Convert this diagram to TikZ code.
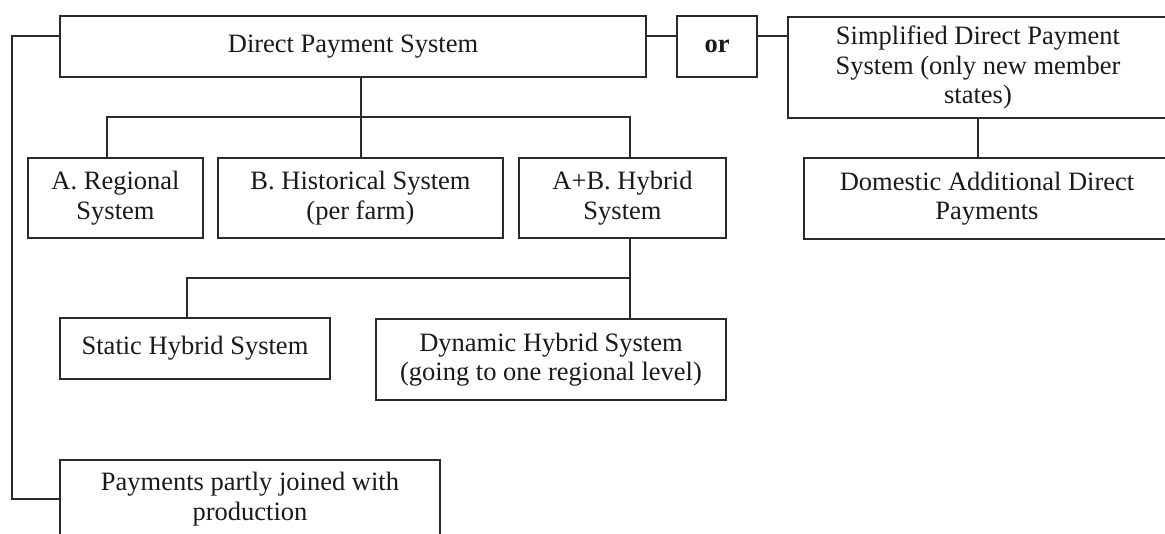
\documentclass[tikz,border=0pt]{standalone}
\usepackage{fontspec}
\setmainfont{Liberation Serif}
\definecolor{linec}{HTML}{2A2A2A}
\definecolor{textc}{HTML}{1A1A1A}
\begin{document}
\begin{tikzpicture}[x=1pt,y=-1pt,
  box/.style={draw=linec, line width=2pt, fill=white, align=center, inner sep=0pt,
    font=\fontsize{26.5}{29.5}\selectfont, text=textc},
  link/.style={draw=linec, line width=2pt, line join=miter}]
\useasboundingbox (0,0) rectangle (1165,534);
\clip (0,0) rectangle (1165,534);
\fill[white] (0,0) rectangle (1165,534);
% nodes
\node[box, minimum width=586pt, minimum height=61pt] (dps) at (353,46.5) {Direct Payment System};
\node[box, minimum width=80pt, minimum height=61pt, font=\fontsize{26.5}{29.5}\selectfont\bfseries] (orbox) at (717,46.5) {or};
\node[box, minimum width=380pt, minimum height=101pt] (simp) at (978,67.5) {Simplified Direct Payment\\System (only new member\\states)};
\node[box, minimum width=366pt, minimum height=81pt] (dom) at (987,198.5) {Domestic Additional Direct\\Payments};
\node[box, minimum width=175pt, minimum height=80pt] (reg) at (115.5,198) {A. Regional\\System};
\node[box, minimum width=285pt, minimum height=80pt] (hist) at (360.5,198) {B. Historical System\\(per farm)};
\node[box, minimum width=207pt, minimum height=80pt] (hyb) at (622.5,198) {A+B. Hybrid\\System};
\node[box, minimum width=270pt, minimum height=61pt] (stat) at (195,348.5) {Static Hybrid System};
\node[box, minimum width=350pt, minimum height=81pt] (dyn) at (551,359.5) {Dynamic Hybrid System\\(going to one regional level)};
\node[box, minimum width=380pt, minimum height=78pt] (pay) at (250,499) {Payments partly joined with\\production};
% helper coordinates
\coordinate (lk) at (0,36);
\coordinate (lft) at (12,499);
\coordinate (busA) at (107,117);
\coordinate (busC) at (630,117);
\coordinate (busD) at (187,278);
\coordinate (busE) at (630,278);
% connectors
\draw[link] (dps.east |- lk) -- (orbox.west |- lk);
\draw[link] (orbox.east |- lk) -- (simp.west |- lk);
\draw[link] (dps.west |- lk) -| (lft) -- (pay.west |- lft);
\draw[link] (reg.north -| busA) -- (busA) -- (busC) -- (hyb.north -| busC);
\draw[link] (dps.south -| hist.north) -- (hist.north);
\draw[link] (hyb.south -| busE) -- (dyn.north -| busE);
\draw[link] (stat.north -| busD) -- (busD) -- (busE);
\draw[link] (simp.south) -- (simp.south |- dom.north);
\end{tikzpicture}
\end{document}
